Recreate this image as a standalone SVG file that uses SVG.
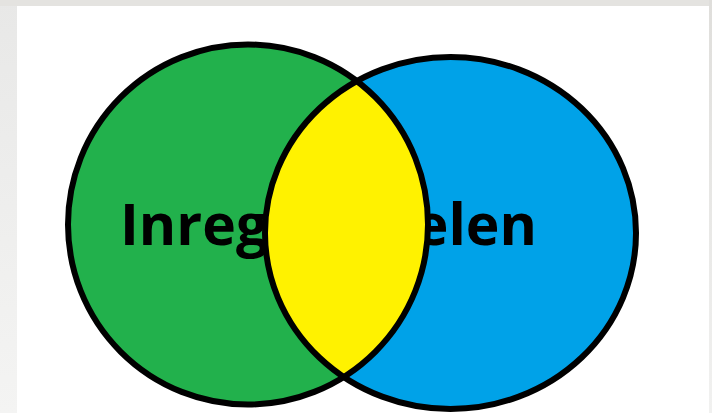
<svg xmlns="http://www.w3.org/2000/svg" width="712" height="413" viewBox="0 0 712 413">
  <style>
    .outline { fill: none; stroke: #000; stroke-width: 6; }
    .label { font-family: "Open Sans", "Liberation Sans", sans-serif; font-weight: bold; font-size: 57px; fill: #000; }
  </style>
  <defs>
    <linearGradient id="bgL" x1="0" y1="0" x2="0" y2="1">
      <stop offset="0" stop-color="#e8e8e7"/>
      <stop offset="1" stop-color="#f4f4f3"/>
    </linearGradient>
    <linearGradient id="bgR" x1="0" y1="0" x2="0" y2="1">
      <stop offset="0" stop-color="#dfdedb"/>
      <stop offset="1" stop-color="#f1f1f0"/>
    </linearGradient>
    <clipPath id="clipGreen">
      <circle cx="248" cy="224.5" r="180"/>
    </clipPath>
  </defs>

  <!-- background frame -->
  <rect x="0" y="0" width="712" height="413" fill="url(#bgL)"/>
  <rect x="0" y="0" width="712" height="6" fill="#e4e3e0"/>
  <rect x="709" y="0" width="3" height="413" fill="url(#bgR)"/>
  <rect x="17" y="6" width="692" height="407" fill="#ffffff"/>

  <g id="set-left">
    <circle cx="248" cy="224.5" r="180" fill="#22b14c"/>
  </g>
  <g id="set-right">
    <ellipse cx="450.5" cy="233" rx="185.5" ry="176" fill="#00a2e8"/>
  </g>

  <g id="labels">
    <text class="label" x="120" y="245">Inreg</text>
    <text class="label" x="537" y="245" text-anchor="end">elen</text>
  </g>

  <g id="intersection">
    <ellipse cx="450.5" cy="233" rx="185.5" ry="176" fill="#fff200" clip-path="url(#clipGreen)"/>
  </g>

  <g id="outlines">
    <circle class="outline" cx="248" cy="224.5" r="180"/>
    <ellipse class="outline" cx="450.5" cy="233" rx="185.5" ry="176"/>
  </g>

  <g id="connectors"/>
</svg>
